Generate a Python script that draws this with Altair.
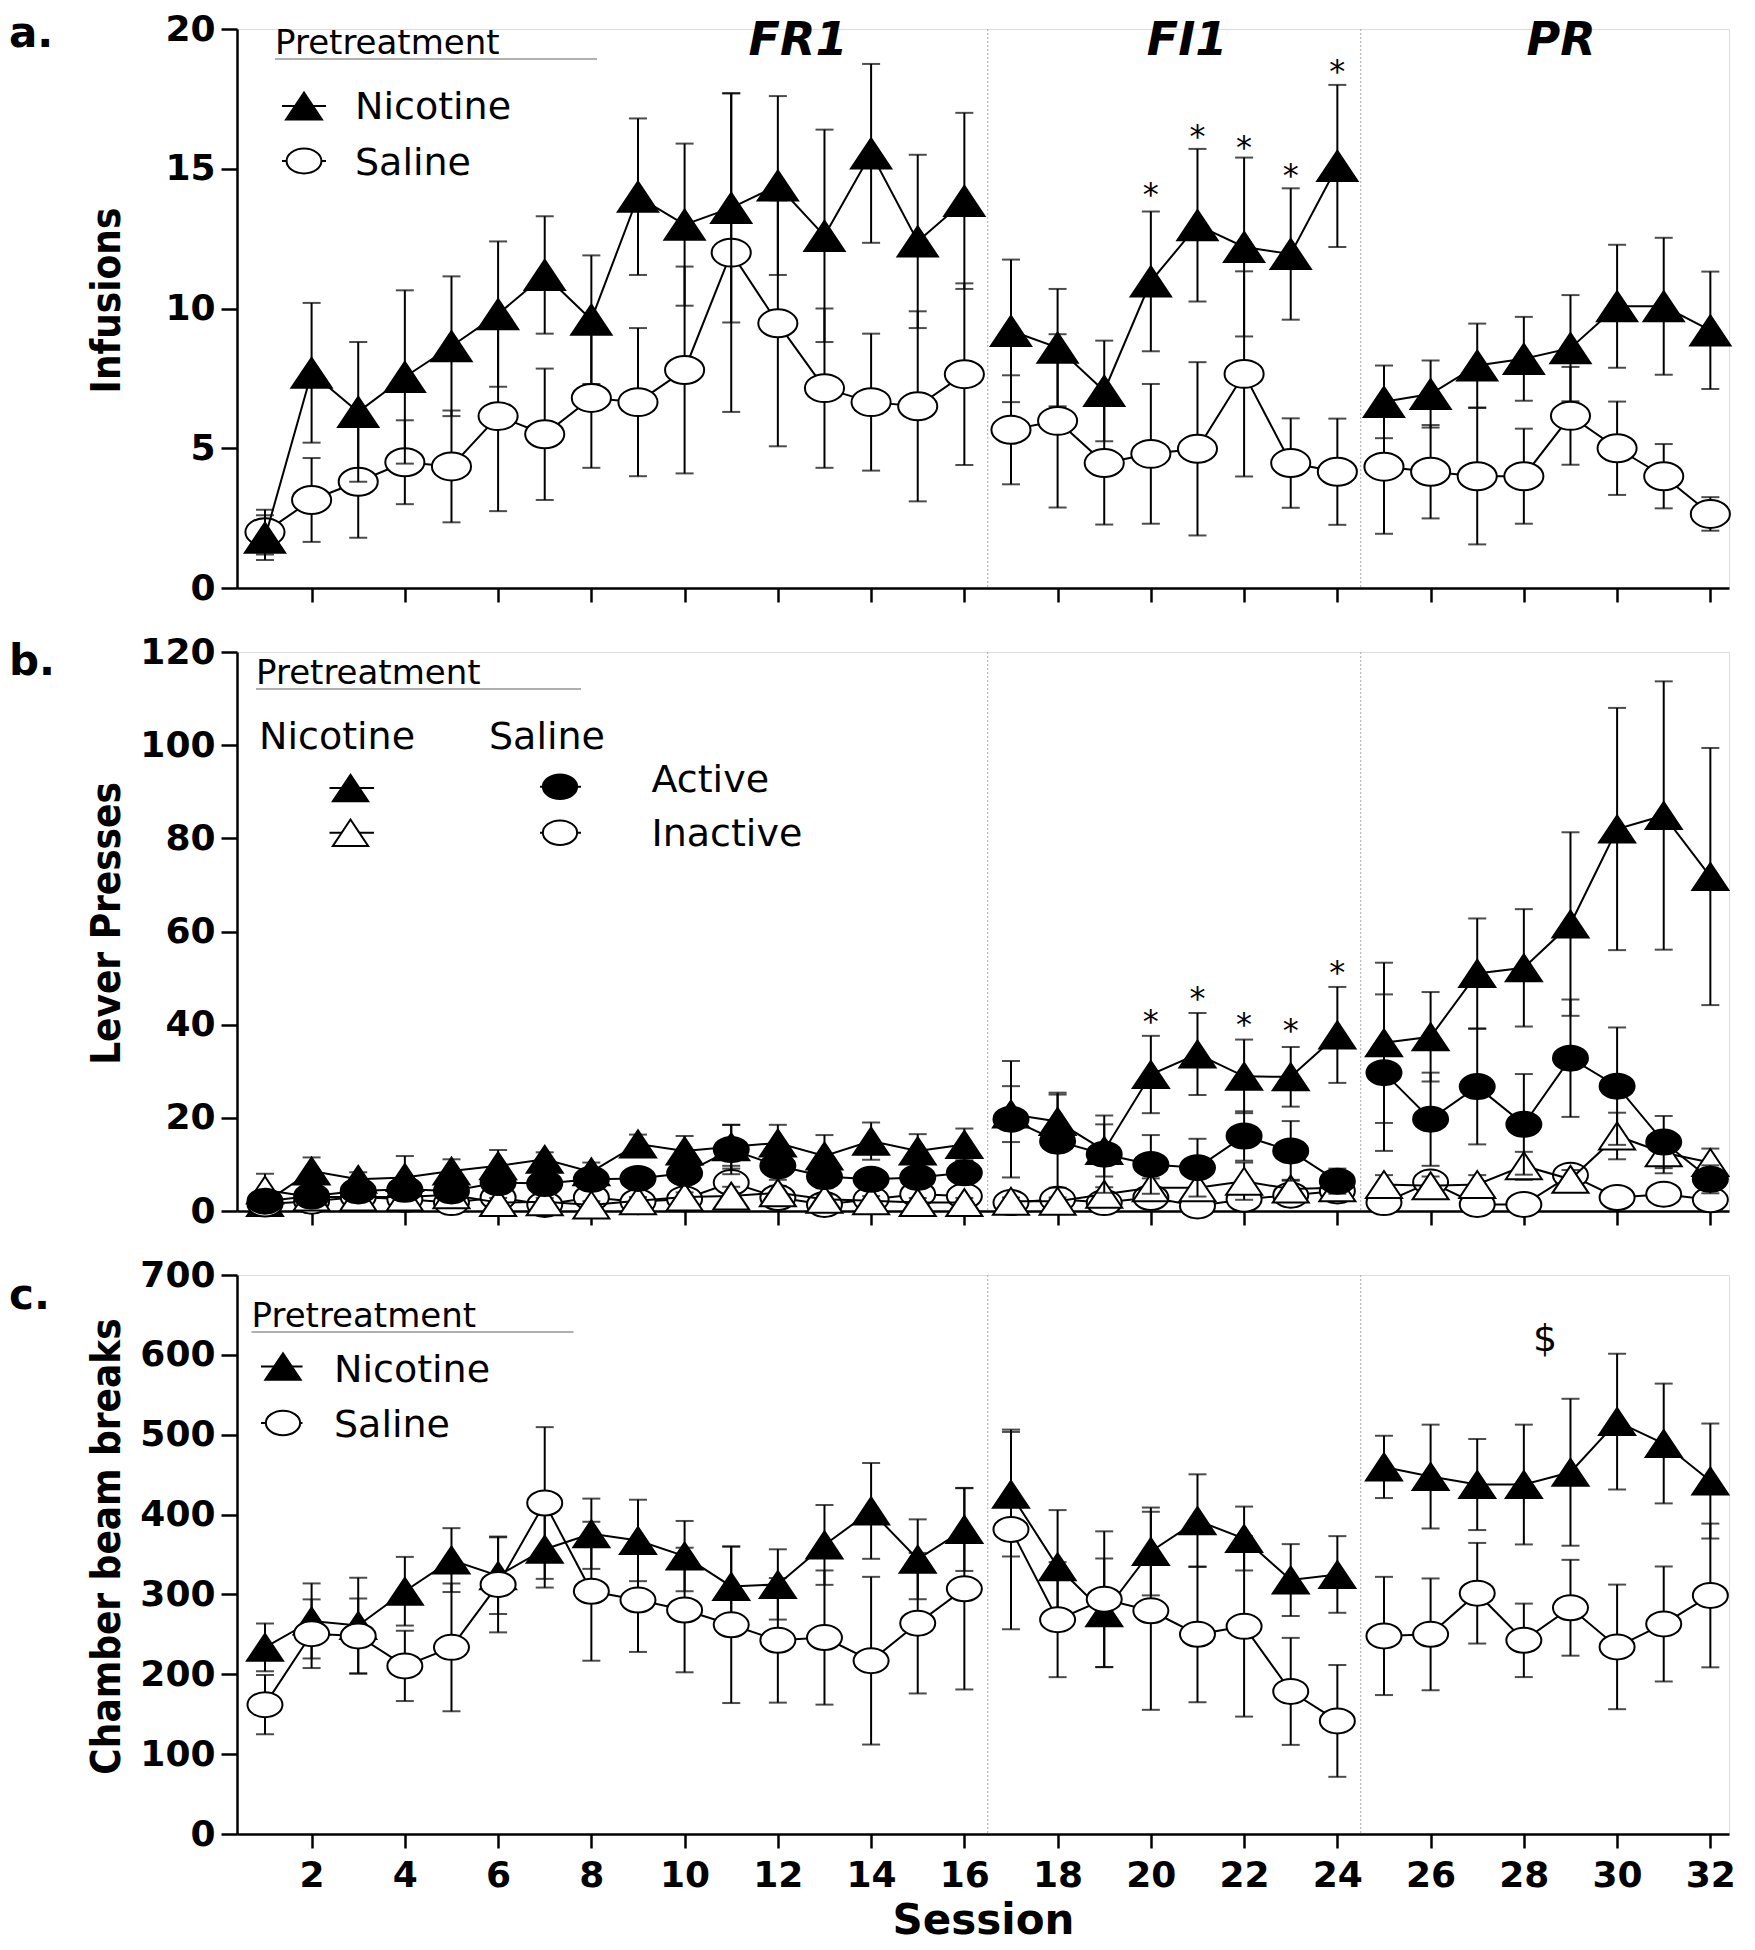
import altair as alt
import pandas as pd

# ---------------- data ----------------
sessions = list(range(1, 33))
phases = ["FR1"] * 16 + ["FI1"] * 8 + ["PR"] * 8
phase_bounds = [16.5, 24.5]
even_sessions = list(range(2, 33, 2))

# panel a: infusions
inf_nicotine = [1.8, 7.7, 6.3, 7.55, 8.65, 9.8, 11.2, 9.6, 14.0, 13.0, 13.6, 14.4, 12.6, 15.55, 12.4, 13.85,
                9.2, 8.6, 7.05, 10.97, 12.98, 12.2, 11.95, 15.1,
                6.66, 6.94, 7.96, 8.2, 8.58, 10.08, 10.08, 9.22]
inf_nicotine_sem = [0.8, 2.5, 2.5, 3.1, 2.5, 2.6, 2.1, 2.3, 2.8, 2.9, 4.1, 3.2, 3.8, 3.2, 3.1, 3.15,
                    2.55, 2.1, 1.8, 2.5, 2.73, 3.2, 2.35, 2.9,
                    1.3, 1.2, 1.5, 1.5, 1.9, 2.2, 2.45, 2.1]
inf_saline = [2.0, 3.15, 3.8, 4.5, 4.35, 6.15, 5.5, 6.8, 6.65, 7.8, 12.0, 9.47, 7.15, 6.65, 6.5, 7.65,
              5.66, 5.98, 4.47, 4.8, 4.98, 7.66, 4.47, 4.16,
              4.34, 4.16, 4.0, 4.0, 6.16, 5.0, 4.0, 2.65]
inf_saline_sem = [0.8, 1.5, 2.0, 1.5, 2.0, 3.4, 2.35, 2.5, 2.65, 3.7, 5.7, 4.4, 2.85, 2.45, 3.4, 3.25,
                  1.95, 3.1, 2.2, 2.5, 3.1, 3.67, 1.6, 1.9,
                  2.4, 1.67, 2.44, 1.7, 1.75, 1.67, 1.15, 0.6]
sig_sessions = [20, 21, 22, 23, 24]
sig_infusions = [14.3, 16.4, 16.0, 15.0, 18.7]

# panel b: lever presses
lp_nic_active = [1.8, 8.6, 6.8, 7.2, 8.6, 9.7, 11.1, 8.4, 14.4, 12.9, 13.8, 14.6, 11.8, 15.0, 12.9, 14.3,
                 20.8, 19.2, 13.0, 29.3, 33.7, 28.9, 28.8, 37.8,
                 36.1, 37.4, 51.0, 52.2, 61.6, 82.0, 84.9, 71.8]
lp_nic_active_sem = [1.0, 2.9, 1.5, 4.6, 2.5, 3.4, 1.5, 2.0, 2.0, 3.2, 4.7, 3.9, 4.5, 4.0, 3.6, 3.4,
                     6.0, 6.2, 5.6, 8.3, 8.8, 7.9, 6.4, 10.3,
                     17.2, 9.6, 11.8, 12.6, 19.7, 26.0, 28.8, 27.6]
lp_sal_active = [2.1, 3.2, 4.3, 4.65, 4.3, 6.1, 5.9, 6.8, 7.0, 8.1, 13.2, 9.7, 7.4, 6.8, 7.2, 8.2,
                 19.7, 15.0, 12.2, 10.0, 9.3, 16.1, 12.9, 6.4,
                 29.7, 19.7, 26.7, 18.6, 32.8, 26.8, 14.8, 6.8]
lp_sal_active_sem = [0.8, 1.2, 1.2, 1.5, 1.5, 1.8, 1.5, 1.5, 2.0, 2.0, 5.3, 3.0, 2.5, 2.0, 2.2, 2.5,
                     12.5, 10.0, 8.3, 6.3, 6.2, 5.3, 6.4, 2.7,
                     16.8, 10.0, 12.4, 10.8, 12.6, 12.6, 5.6, 3.0]
lp_nic_inactive = [4.5, 3.0, 3.0, 3.0, 3.5, 1.8, 2.0, 1.3, 2.2, 3.0, 3.2, 3.9, 2.5, 2.2, 1.8, 1.8,
                   2.1, 2.1, 3.6, 5.0, 5.0, 6.4, 4.7, 5.0,
                   5.7, 5.4, 5.7, 9.7, 6.8, 16.1, 12.5, 10.4]
lp_nic_inactive_sem = [3.5, 1.0, 1.0, 1.0, 1.0, 1.0, 0.8, 0.8, 0.8, 1.0, 2.0, 1.5, 1.0, 1.0, 1.0, 1.0,
                       0.8, 0.8, 1.5, 2.0, 2.0, 4.0, 2.0, 1.5,
                       2.0, 2.0, 2.0, 3.0, 2.0, 5.0, 4.4, 3.0]
lp_sal_inactive = [1.5, 2.1, 3.0, 2.5, 1.8, 2.9, 1.4, 2.9, 2.0, 2.6, 6.1, 2.9, 1.4, 2.5, 3.6, 3.2,
                   1.8, 2.5, 1.8, 2.9, 1.1, 2.5, 3.4, 4.3,
                   1.8, 6.2, 1.4, 1.4, 7.7, 2.9, 3.6, 2.4]
lp_sal_inactive_sem = [0.6, 0.8, 1.0, 0.8, 0.8, 1.0, 0.6, 1.0, 0.8, 1.0, 3.6, 1.0, 0.6, 0.8, 1.0, 1.0,
                       0.6, 0.8, 0.6, 1.0, 0.5, 1.0, 1.0, 1.0,
                       0.8, 1.5, 0.6, 0.6, 1.5, 1.0, 1.0, 0.8]
sig_presses = [42.0, 47.1, 41.4, 40.1, 52.7]

# panel c: chamber beam breaks
bb_nicotine = [233.7, 266.8, 261, 304, 343, 323.5, 356.6, 376, 367.6, 348, 310, 312.5, 362, 404.6, 344, 381.4,
               425.5, 334.6, 277, 353.8, 392.4, 370, 318, 325,
               459.7, 447.6, 437.6, 437.6, 453, 516.4, 489, 442]
bb_nicotine_sem = [30, 47, 60, 43, 40, 48, 48, 44, 51, 44, 50, 44, 50, 60, 50, 52,
                   78, 71, 68, 55, 58, 40, 45, 48,
                   39, 65, 57, 75, 92, 85, 75, 72]
bb_saline = [162, 250.8, 248, 210.5, 233.7, 312.5, 414.5, 304, 293, 280.5, 262, 242.5, 246, 217, 264, 307,
             381.4, 268.4, 294, 279.5, 250, 260, 178.6, 141.6,
             248, 250, 301.5, 242.5, 283.3, 234.3, 263, 298.7]
bb_saline_sem = [37, 43, 47, 44, 80, 60, 95, 87, 65, 78, 98, 78, 84, 105, 88, 126,
                 125, 72, 85, 124, 85, 113, 67, 70,
                 74, 70, 63, 46, 60, 78, 72, 90]

# ---------------- styling ----------------
W, H = 1492, 559
XDOM = [0.4, 32.4]
TRI = "M 0 -1.08 L 1.44 1.08 L -1.44 1.08 Z"
ELL = ("M 1.4 0 C 1.4 0.55 0.77 1 0 1 C -0.77 1 -1.4 0.55 -1.4 0 "
       "C -1.4 -0.55 -0.77 -1 0 -1 C 0.77 -1 1.4 -0.55 1.4 0 Z")
FONT = "DejaVu Sans"
TITLE_FONT = "DejaVu Sans Condensed, DejaVu Sans"
ONE = pd.DataFrame({"k": [0]})


def frame(mean, sem):
    return pd.DataFrame({
        "session": sessions, "phase": phases, "mean": mean,
        "lo": [max(m - s, 0) for m, s in zip(mean, sem)],
        "hi": [m + s for m, s in zip(mean, sem)],
    })


def make_encoders(ydom, yticks, ytitle, last):
    xscale = alt.Scale(domain=XDOM, nice=False, zero=False)
    yscale = alt.Scale(domain=ydom, nice=False, zero=True)
    xaxis = alt.Axis(values=even_sessions, labels=last, title="Session" if last else None,
                     tickSize=14, tickWidth=2.5, tickColor="black", domainColor="black", domainWidth=2.5,
                     grid=False, labelFont=FONT, labelFontSize=36, labelFontWeight="bold",
                     labelColor="black", labelPadding=10, titleFont=FONT, titleFontSize=42,
                     titleFontWeight="bold", titleColor="black", titlePadding=7)
    yaxis = alt.Axis(values=yticks, title=ytitle, titleFont=TITLE_FONT, titleFontSize=40,
                     titleFontWeight="bold", titleColor="black", titleAngle=270, titleX=-118, titleY=271,
                     titleAlign="center", titleBaseline="alphabetic",
                     labelFont=FONT, labelFontSize=36, labelFontWeight="bold", labelColor="black",
                     labelPadding=6, tickSize=16, tickWidth=2.5, tickColor="black",
                     domainColor="black", domainWidth=2.5, grid=False)

    def X(f):
        return alt.X(f, type="quantitative", scale=xscale, axis=xaxis)

    def Y(f):
        return alt.Y(f, type="quantitative", scale=yscale, axis=yaxis)
    return X, Y


def series_layers(df, shape, fill, X, Y, size):
    base = alt.Chart(df)
    bar = base.mark_rule(color="black", strokeWidth=2).encode(x=X("session"), y=Y("lo"), y2="hi")
    cap_lo = base.mark_tick(color="black", orient="horizontal", size=18, thickness=2).encode(
        x=X("session"), y=Y("lo"))
    cap_hi = base.mark_tick(color="black", orient="horizontal", size=18, thickness=2).encode(
        x=X("session"), y=Y("hi"))
    line = base.mark_line(color="black", strokeWidth=2).encode(x=X("session"), y=Y("mean"),
                                                              detail="phase:N")
    pts = base.mark_point(shape=shape, size=size, filled=True, fill=fill, stroke="black",
                          strokeWidth=2, opacity=1, fillOpacity=1).encode(x=X("session"), y=Y("mean"))
    return [bar, cap_lo, cap_hi, line, pts]


def label(txt, x, y, size, weight="normal", style="normal", align="left", font=FONT):
    return alt.Chart(ONE).mark_text(text=txt, fontSize=size, fontWeight=weight, fontStyle=style,
                                    align=align, baseline="alphabetic", font=font, color="black").encode(
        x=alt.value(x), y=alt.value(y))


def symbol(x, y, shape, fill, size):
    return alt.Chart(ONE).mark_point(shape=shape, size=size, filled=True, fill=fill, stroke="black",
                                     strokeWidth=2, opacity=1, fillOpacity=1).encode(
        x=alt.value(x), y=alt.value(y))


def hline(x1, x2, y, color="black", w=2):
    return alt.Chart(ONE).mark_rule(color=color, strokeWidth=w).encode(
        x=alt.value(x1), x2=alt.value(x2), y=alt.value(y))


def dividers(X):
    return alt.Chart(pd.DataFrame({"b": phase_bounds})).mark_rule(
        color="#b8b8b8", strokeWidth=1.2, strokeDash=[2, 2]).encode(
        x=X("b"), y=alt.value(0), y2=alt.value(H))


def stars(sig_vals, X, Y):
    return alt.Chart(pd.DataFrame({"session": sig_sessions, "v": sig_vals})).mark_text(
        text="*", fontSize=32, baseline="alphabetic", dy=17, font=FONT, color="black").encode(
        x=X("session"), y=Y("v"))


# ---------------- panel a ----------------
Xa, Ya = make_encoders([0, 20], [0, 5, 10, 15, 20], "Infusions", False)
SZA = 780
layers_a = [dividers(Xa)]
layers_a += series_layers(frame(inf_saline, inf_saline_sem), ELL, "white", Xa, Ya, SZA)
layers_a += series_layers(frame(inf_nicotine, inf_nicotine_sem), TRI, "black", Xa, Ya, SZA)
layers_a += [
    stars(sig_infusions, Xa, Ya),
    label("a.", -228, 18, 42, weight="bold"),
    label("FR1", 561, 26, 46, weight="bold", style="italic", align="center"),
    label("FI1", 950, 26, 46, weight="bold", style="italic", align="center"),
    label("PR", 1324, 26, 46, weight="bold", style="italic", align="center"),
    label("Pretreatment", 38, 25, 34),
    hline(38, 360, 30, color="#b0b0b0", w=2),
    hline(45, 89, 77), symbol(67, 77, TRI, "black", 620),
    label("Nicotine", 118, 90, 38),
    hline(45, 89, 132), symbol(67, 132, ELL, "white", 620),
    label("Saline", 118, 145.6, 38),
]
panel_a = alt.layer(*layers_a).properties(width=W, height=H)

# ---------------- panel b ----------------
Xb, Yb = make_encoders([0, 120], [0, 20, 40, 60, 80, 100, 120], "Lever Presses", False)
SZB = 625
layers_b = [dividers(Xb)]
layers_b += series_layers(frame(lp_nic_active, lp_nic_active_sem), TRI, "black", Xb, Yb, SZB)
layers_b += series_layers(frame(lp_sal_inactive, lp_sal_inactive_sem), ELL, "white", Xb, Yb, SZB)
layers_b += series_layers(frame(lp_nic_inactive, lp_nic_inactive_sem), TRI, "white", Xb, Yb, SZB)
layers_b += series_layers(frame(lp_sal_active, lp_sal_active_sem), ELL, "black", Xb, Yb, SZB)
layers_b += [
    stars(sig_presses, Xb, Yb),
    label("b.", -228, 22.5, 42, weight="bold"),
    label("Pretreatment", 19, 32, 34),
    hline(19, 344, 37, color="#b0b0b0", w=2),
    label("Nicotine", 22, 96.5, 38),
    label("Saline", 252, 96.5, 38),
    hline(92.5, 137, 136), symbol(113.5, 136, TRI, "black", 600),
    hline(92.5, 137, 180.7), symbol(113.5, 180.7, TRI, "white", 600),
    hline(303, 344, 134.8), symbol(323, 134.8, ELL, "black", 600),
    hline(303, 344, 180.7), symbol(323, 180.7, ELL, "white", 600),
    label("Active", 414.5, 140, 38),
    label("Inactive", 414.5, 194, 38),
]
panel_b = alt.layer(*layers_b).properties(width=W, height=H)

# ---------------- panel c ----------------
Xc, Yc = make_encoders([0, 700], [0, 100, 200, 300, 400, 500, 600, 700], "Chamber beam breaks", True)
SZC = 625
layers_c = [dividers(Xc)]
layers_c += series_layers(frame(bb_nicotine, bb_nicotine_sem), TRI, "black", Xc, Yc, SZC)
layers_c += series_layers(frame(bb_saline, bb_saline_sem), ELL, "white", Xc, Yc, SZC)
layers_c += [
    label("c.", -228, 34, 42, weight="bold"),
    label("Pretreatment", 14.5, 52, 34),
    hline(14.5, 336.5, 57, color="#b0b0b0", w=2),
    hline(24, 65.5, 91.5), symbol(46, 91.5, TRI, "black", 600),
    label("Nicotine", 97, 107, 38),
    hline(24, 65.5, 148), symbol(46, 148, ELL, "white", 600),
    label("Saline", 97, 162, 38),
    label("$", 1308, 75.5, 38, align="center"),
]
panel_c = alt.layer(*layers_c).properties(width=W, height=H)

chart = alt.vconcat(panel_a, panel_b, panel_c, spacing=64, bounds="flush").properties(
    padding={"left": 0, "top": 2, "right": 0, "bottom": 0}
).configure_view(stroke=None).configure(font=FONT)

chart.save("out.html", embed_options={"renderer": "svg", "actions": False})
